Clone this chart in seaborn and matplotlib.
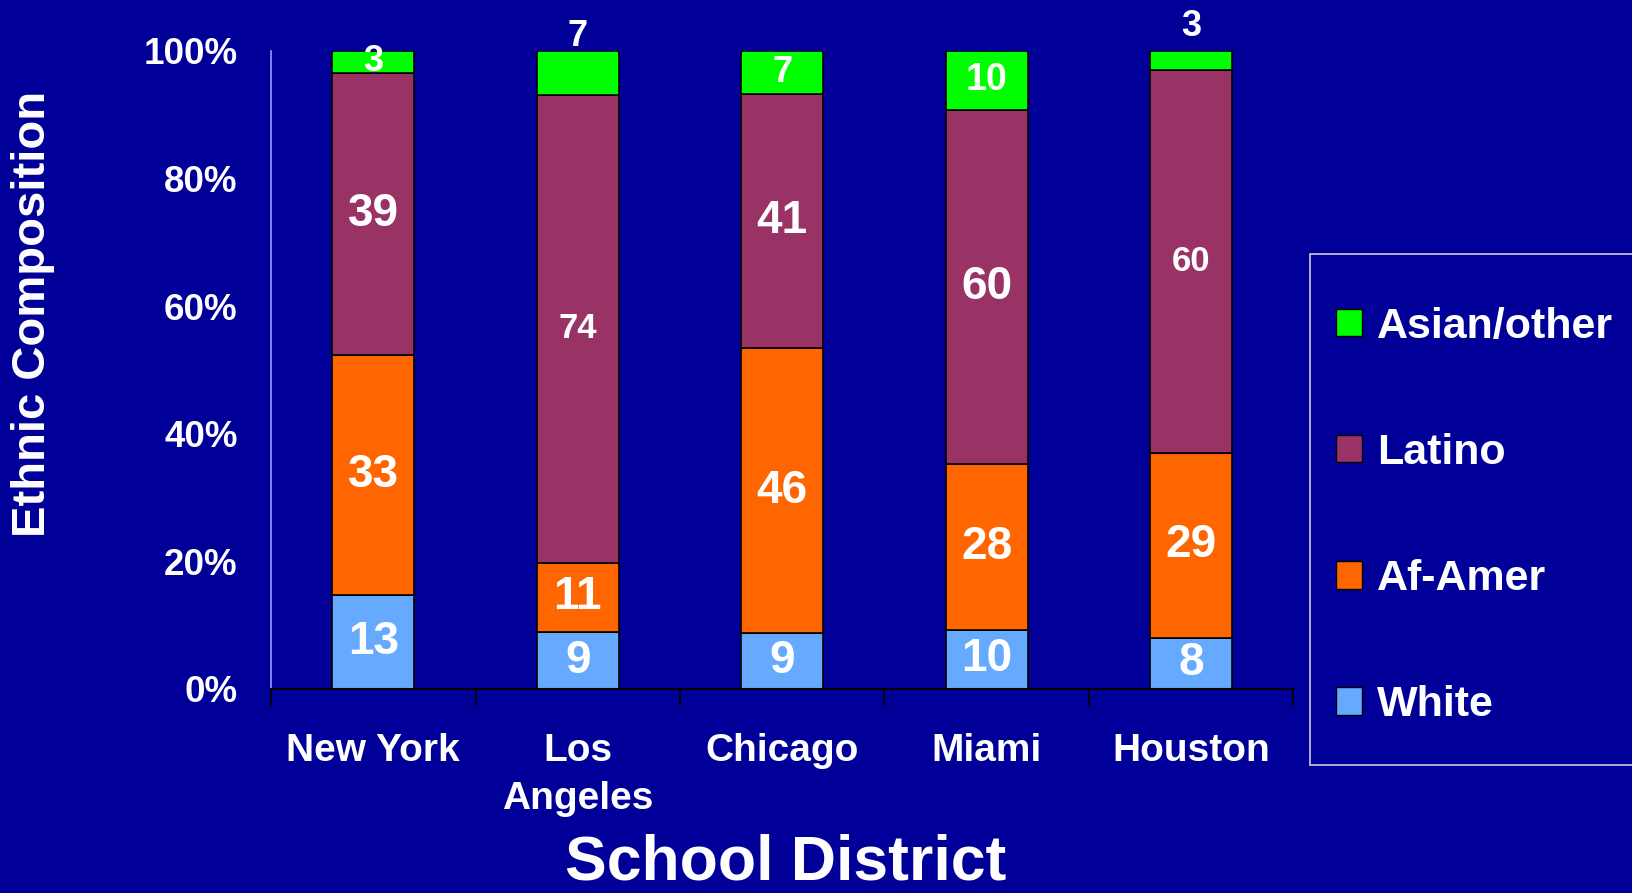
import numpy as np
import pandas as pd
import seaborn as sns
import matplotlib.pyplot as plt
from matplotlib.patches import Patch, Rectangle

districts = ["New York", "Los\nAngeles", "Chicago", "Miami", "Houston"]
white = [13, 9, 9, 10, 8]
af_amer = [33, 11, 46, 28, 29]
latino = [39, 74, 41, 60, 60]
asian_other = [3, 7, 7, 10, 3]

groups = ["White", "Af-Amer", "Latino", "Asian/other"]
colors = {"White": "#66AAFF", "Af-Amer": "#FF6600",
          "Latino": "#993366", "Asian/other": "#00FF00"}
BG = "#000099"

df = pd.DataFrame({"district": districts, "White": white, "Af-Amer": af_amer,
                   "Latino": latino, "Asian/other": asian_other})
totals = df[groups].sum(axis=1)
pct = df[groups].div(totals, axis=0) * 100

sns.set_style("white")
plt.rcParams["font.family"] = ["Liberation Sans", "DejaVu Sans"]

fig = plt.figure(figsize=(16.33, 8.93), dpi=100, facecolor=BG)
ax = fig.add_axes([0.166, 0.2285, 0.626, 0.7145])
ax.set_facecolor(BG)

bottom = np.zeros(len(districts))
for g in groups:
    sns.barplot(x=df["district"], y=pct[g], bottom=bottom, color=colors[g],
                width=0.4, edgecolor="black", linewidth=1.2, ax=ax,
                saturation=1)
    bottom += pct[g].values

# value labels (a few small ones sit above the bar)
big, small = 33, 25
label_size = {("Latino", 1): small, ("Latino", 4): small,
              ("Asian/other", 0): 26, ("Asian/other", 1): 26,
              ("Asian/other", 2): 26, ("Asian/other", 3): 27,
              ("Asian/other", 4): 26}
above = {("Asian/other", 1): 2.2, ("Asian/other", 4): 3.9}
cum = np.zeros(len(districts))
for g in groups:
    vals = pct[g].values
    for i, v in enumerate(vals):
        if (g, i) in above:
            y = 100 + above[(g, i)]
        else:
            y = cum[i] + v / 2
        ax.text(i, y, str(df[g][i]), ha="center", va="center", color="white",
                fontsize=label_size.get((g, i), big), fontweight="bold",
                clip_on=False)
    cum += vals

ax.set_ylim(0, 100)
ax.set_xlim(-0.5, len(districts) - 0.5)
ax.set_yticks([0, 20, 40, 60, 80, 100])
ax.set_yticklabels([f"{t}%" for t in [0, 20, 40, 60, 80, 100]])
ax.tick_params(axis="y", colors="#9999FF", length=9, width=1.2, pad=15,
               labelcolor="white", labelsize=26.5)
for lbl in ax.get_yticklabels():
    lbl.set_fontweight("bold")

ax.set_xticks(range(len(districts)))
ax.set_xticks(np.arange(-0.5, len(districts), 1), minor=True)
ax.set_xticklabels(districts, fontsize=28, fontweight="bold", color="white",
                   linespacing=1.4, va="top")
ax.tick_params(axis="x", which="major", length=0, pad=32)
ax.tick_params(axis="x", which="minor", length=12, width=1.2, color="black",
               direction="out", bottom=True)
ax.set_xlabel("")
ax.set_ylabel("")

for s in ["top", "right"]:
    ax.spines[s].set_visible(False)
ax.spines["left"].set_color("#9999FF")
ax.spines["left"].set_linewidth(1.2)
ax.spines["bottom"].set_color("black")
ax.spines["bottom"].set_linewidth(1.5)

fig.text(0.0205, 0.648, "Ethnic Composition", rotation=90, ha="center",
         va="center", color="white", fontsize=34, fontweight="bold")
fig.text(0.481, 0.034, "School District", ha="center", va="center",
         color="white", fontsize=45, fontweight="bold")

# legend box drawn by hand, entries placed inside
box_l, box_t, box_b = 1310 / 1633, 1 - 254 / 893, 1 - 765 / 893
fig.patches.append(Rectangle((box_l, box_b), 1.01 - box_l, box_t - box_b,
                             transform=fig.transFigure, facecolor=BG,
                             edgecolor="#CCCCDD", linewidth=1.2))
handles = [Patch(facecolor=colors[g], edgecolor="black", label=g)
           for g in reversed(groups)]
leg = fig.legend(handles=handles, loc="center left",
                 bbox_to_anchor=(1336 / 1633, 1 - 516 / 893),
                 frameon=False, prop={"weight": "bold", "size": 31},
                 handlelength=0.6, handleheight=0.6, handletextpad=0.35,
                 labelspacing=2.0, borderpad=0, borderaxespad=0)
for t in leg.get_texts():
    t.set_color("white")

fig.savefig("out.png", dpi=100, facecolor=BG)
